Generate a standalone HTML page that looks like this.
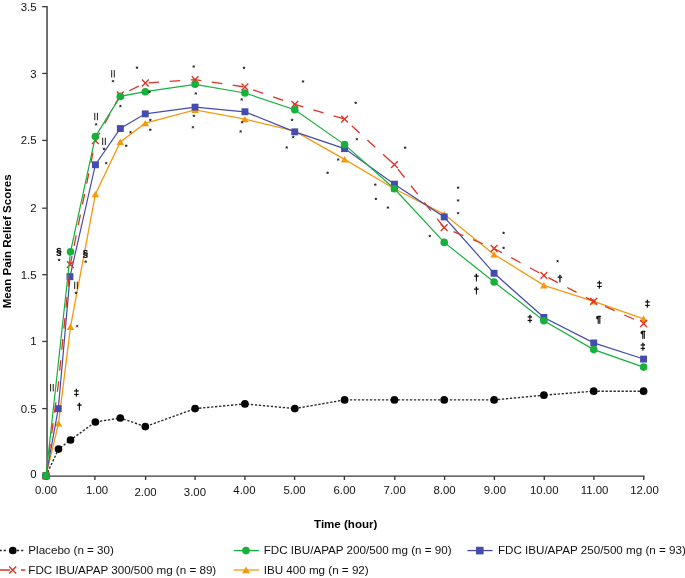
<!DOCTYPE html>
<html><head><meta charset="utf-8"><title>Chart</title>
<style>
html,body{margin:0;padding:0;background:#fff;}
body{width:685px;height:578px;overflow:hidden;font-family:"Liberation Sans",sans-serif;}
svg{display:block;will-change:transform;font-family:"Liberation Sans",sans-serif;}
.tk{font-size:11.42px;fill:#111;}
.lg{font-size:11.64px;fill:#111;}
.ttl{font-size:11.3px;font-weight:bold;fill:#000;}
.sym{font-size:9.6px;font-weight:bold;fill:#000;stroke:#000;stroke-width:0.3px;text-anchor:middle;}
</style></head><body>
<svg width="685" height="578" viewBox="0 0 685 578">
<rect width="685" height="578" fill="#fff"/>
<g stroke="#3a3a3a" stroke-width="1.42" fill="none">
<path d="M47.05 5.95V476.15H644.5"/>
<path d="M42.2 476.00H47.0" stroke-width="1.3"/>
<path d="M42.2 408.60H47.0" stroke-width="1.3"/>
<path d="M42.2 341.45H47.0" stroke-width="1.3"/>
<path d="M42.2 274.65H47.0" stroke-width="1.3"/>
<path d="M42.2 208.20H47.0" stroke-width="1.3"/>
<path d="M42.2 140.40H47.0" stroke-width="1.3"/>
<path d="M42.2 73.45H47.0" stroke-width="1.3"/>
<path d="M42.2 6.65H47.0" stroke-width="1.3"/>
<path d="M46.6 476.1V480.0" stroke-width="1.4"/>
<path d="M94.9 476.1V480.0" stroke-width="1.4"/>
<path d="M145.6 476.1V480.0" stroke-width="1.4"/>
<path d="M195.1 476.1V480.0" stroke-width="1.4"/>
<path d="M244.9 476.1V480.0" stroke-width="1.4"/>
<path d="M294.6 476.1V480.0" stroke-width="1.4"/>
<path d="M344.4 476.1V480.0" stroke-width="1.4"/>
<path d="M394.8 476.1V480.0" stroke-width="1.4"/>
<path d="M444.6 476.1V480.0" stroke-width="1.4"/>
<path d="M494.4 476.1V480.0" stroke-width="1.4"/>
<path d="M544.3 476.1V480.0" stroke-width="1.4"/>
<path d="M593.9 476.1V480.0" stroke-width="1.4"/>
<path d="M643.7 476.1V480.0" stroke-width="1.4"/>
</g>
<text class="tk" x="36.5" y="478.2" text-anchor="end">0</text>
<text class="tk" x="36.5" y="412.6" text-anchor="end">0.5</text>
<text class="tk" x="36.5" y="345.4" text-anchor="end">1</text>
<text class="tk" x="36.5" y="278.6" text-anchor="end">1.5</text>
<text class="tk" x="36.5" y="212.2" text-anchor="end">2</text>
<text class="tk" x="36.5" y="144.4" text-anchor="end">2.5</text>
<text class="tk" x="36.5" y="77.5" text-anchor="end">3</text>
<text class="tk" x="36.5" y="10.7" text-anchor="end">3.5</text>
<text class="tk" x="46.0" y="494.4" text-anchor="middle">0.00</text>
<text class="tk" x="97.0" y="494.4" text-anchor="middle">1.00</text>
<text class="tk" x="145.6" y="495.6" text-anchor="middle">2.00</text>
<text class="tk" x="194.9" y="496.3" text-anchor="middle">3.00</text>
<text class="tk" x="244.4" y="494.4" text-anchor="middle">4.00</text>
<text class="tk" x="294.6" y="494.4" text-anchor="middle">5.00</text>
<text class="tk" x="344.6" y="494.4" text-anchor="middle">6.00</text>
<text class="tk" x="394.7" y="494.4" text-anchor="middle">7.00</text>
<text class="tk" x="444.6" y="494.4" text-anchor="middle">8.00</text>
<text class="tk" x="494.9" y="494.4" text-anchor="middle">9.00</text>
<text class="tk" x="544.3" y="494.4" text-anchor="middle">10.00</text>
<text class="tk" x="594.6" y="494.4" text-anchor="middle">11.00</text>
<text class="tk" x="644.5" y="494.4" text-anchor="middle">12.00</text>
<text class="ttl" x="345.7" y="527.8" text-anchor="middle" style="font-size:11.55px">Time (hour)</text>
<text class="ttl" transform="translate(10.6,241.3) rotate(-90)" style="font-size:11.6px" text-anchor="middle">Mean Pain Relief Scores</text>
<polyline points="46.0,475.9 58.5,449.1 70.5,440.0 95.4,422.0 120.3,418.0 145.3,426.6 195.1,408.6 244.9,403.9 294.8,408.6 344.6,399.9 394.4,399.9 444.2,399.9 494.1,399.9 543.9,395.2 593.7,391.2 643.6,391.2" fill="none" stroke="#2a2a2a" stroke-width="1.38" stroke-dasharray="2.3 1.7"/>
<circle cx="46.0" cy="475.9" r="3.85" fill="#050505"/>
<circle cx="58.5" cy="449.1" r="3.85" fill="#050505"/>
<circle cx="70.5" cy="440.0" r="3.85" fill="#050505"/>
<circle cx="95.4" cy="422.0" r="3.85" fill="#050505"/>
<circle cx="120.3" cy="418.0" r="3.85" fill="#050505"/>
<circle cx="145.3" cy="426.6" r="3.85" fill="#050505"/>
<circle cx="195.1" cy="408.6" r="3.85" fill="#050505"/>
<circle cx="244.9" cy="403.9" r="3.85" fill="#050505"/>
<circle cx="294.8" cy="408.6" r="3.85" fill="#050505"/>
<circle cx="344.6" cy="399.9" r="3.85" fill="#050505"/>
<circle cx="394.4" cy="399.9" r="3.85" fill="#050505"/>
<circle cx="444.2" cy="399.9" r="3.85" fill="#050505"/>
<circle cx="494.1" cy="399.9" r="3.85" fill="#050505"/>
<circle cx="543.9" cy="395.2" r="3.85" fill="#050505"/>
<circle cx="593.7" cy="391.2" r="3.85" fill="#050505"/>
<circle cx="643.6" cy="391.2" r="3.85" fill="#050505"/>
<polyline points="46.0,475.9 58.5,423.3 70.5,326.9 95.4,194.2 120.3,141.9 145.3,123.2 195.1,109.8 244.9,119.2 294.8,131.2 344.6,159.4 394.4,188.8 444.2,214.3 494.1,254.5 543.9,285.3 593.7,301.4 643.6,318.8" fill="none" stroke="#f5980f" stroke-width="1.30"/>
<path d="M46.0 472.6l3.8 6.4h-7.6z" fill="#f5980f"/>
<path d="M58.5 420.0l3.8 6.4h-7.6z" fill="#f5980f"/>
<path d="M70.5 323.6l3.8 6.4h-7.6z" fill="#f5980f"/>
<path d="M95.4 190.9l3.8 6.4h-7.6z" fill="#f5980f"/>
<path d="M120.3 138.6l3.8 6.4h-7.6z" fill="#f5980f"/>
<path d="M145.3 119.9l3.8 6.4h-7.6z" fill="#f5980f"/>
<path d="M195.1 106.5l3.8 6.4h-7.6z" fill="#f5980f"/>
<path d="M244.9 115.9l3.8 6.4h-7.6z" fill="#f5980f"/>
<path d="M294.8 127.9l3.8 6.4h-7.6z" fill="#f5980f"/>
<path d="M344.6 156.1l3.8 6.4h-7.6z" fill="#f5980f"/>
<path d="M394.4 185.5l3.8 6.4h-7.6z" fill="#f5980f"/>
<path d="M444.2 211.0l3.8 6.4h-7.6z" fill="#f5980f"/>
<path d="M494.1 251.2l3.8 6.4h-7.6z" fill="#f5980f"/>
<path d="M543.9 282.0l3.8 6.4h-7.6z" fill="#f5980f"/>
<path d="M593.7 298.1l3.8 6.4h-7.6z" fill="#f5980f"/>
<path d="M643.6 315.5l3.8 6.4h-7.6z" fill="#f5980f"/>
<polyline points="46.0,475.9 58.3,408.6 70.0,276.6 95.4,164.7 120.3,128.5 145.3,113.8 195.1,107.1 244.9,111.8 294.8,131.9 344.6,148.6 394.4,184.2 444.2,217.0 494.1,273.3 543.9,317.5 593.7,342.9 643.6,359.0" fill="none" stroke="#444cad" stroke-width="1.20"/>
<rect x="42.5" y="472.4" width="6.9" height="6.9" fill="#444cad"/>
<rect x="54.8" y="405.2" width="6.9" height="6.9" fill="#444cad"/>
<rect x="66.5" y="273.2" width="6.9" height="6.9" fill="#444cad"/>
<rect x="92.0" y="161.3" width="6.9" height="6.9" fill="#444cad"/>
<rect x="116.9" y="125.1" width="6.9" height="6.9" fill="#444cad"/>
<rect x="141.8" y="110.4" width="6.9" height="6.9" fill="#444cad"/>
<rect x="191.6" y="103.7" width="6.9" height="6.9" fill="#444cad"/>
<rect x="241.5" y="108.3" width="6.9" height="6.9" fill="#444cad"/>
<rect x="291.3" y="128.4" width="6.9" height="6.9" fill="#444cad"/>
<rect x="341.1" y="145.2" width="6.9" height="6.9" fill="#444cad"/>
<rect x="391.0" y="180.7" width="6.9" height="6.9" fill="#444cad"/>
<rect x="440.8" y="213.5" width="6.9" height="6.9" fill="#444cad"/>
<rect x="490.6" y="269.8" width="6.9" height="6.9" fill="#444cad"/>
<rect x="540.4" y="314.0" width="6.9" height="6.9" fill="#444cad"/>
<rect x="590.3" y="339.5" width="6.9" height="6.9" fill="#444cad"/>
<rect x="640.1" y="355.6" width="6.9" height="6.9" fill="#444cad"/>
<polyline points="46.0,475.9 58.3,384.5 70.3,264.6" fill="none" stroke="#e03223" stroke-width="1.30" stroke-dasharray="10.6 10.55" stroke-dashoffset="20.85"/>
<polyline points="70.3,264.6 95.4,140.6 120.3,95.0 145.3,83.0 195.1,79.6 244.9,87.0 294.8,104.4 344.6,119.2 394.4,164.7 444.2,227.7 494.1,248.5 543.9,275.3 593.7,301.4 643.6,323.5" fill="none" stroke="#e03223" stroke-width="1.30" stroke-dasharray="10.6 10.55" stroke-dashoffset="2.02"/>
<path d="M42.6 472.5l6.8 6.8m0 -6.8l-6.8 6.8" stroke="#e03223" stroke-width="1.35" fill="none"/>
<path d="M66.9 261.2l6.8 6.8m0 -6.8l-6.8 6.8" stroke="#e03223" stroke-width="1.35" fill="none"/>
<path d="M92.0 137.2l6.8 6.8m0 -6.8l-6.8 6.8" stroke="#e03223" stroke-width="1.35" fill="none"/>
<path d="M116.9 91.6l6.8 6.8m0 -6.8l-6.8 6.8" stroke="#e03223" stroke-width="1.35" fill="none"/>
<path d="M141.9 79.6l6.8 6.8m0 -6.8l-6.8 6.8" stroke="#e03223" stroke-width="1.35" fill="none"/>
<path d="M191.7 76.2l6.8 6.8m0 -6.8l-6.8 6.8" stroke="#e03223" stroke-width="1.35" fill="none"/>
<path d="M241.5 83.6l6.8 6.8m0 -6.8l-6.8 6.8" stroke="#e03223" stroke-width="1.35" fill="none"/>
<path d="M291.4 101.0l6.8 6.8m0 -6.8l-6.8 6.8" stroke="#e03223" stroke-width="1.35" fill="none"/>
<path d="M341.2 115.8l6.8 6.8m0 -6.8l-6.8 6.8" stroke="#e03223" stroke-width="1.35" fill="none"/>
<path d="M391.0 161.3l6.8 6.8m0 -6.8l-6.8 6.8" stroke="#e03223" stroke-width="1.35" fill="none"/>
<path d="M440.8 224.3l6.8 6.8m0 -6.8l-6.8 6.8" stroke="#e03223" stroke-width="1.35" fill="none"/>
<path d="M490.7 245.1l6.8 6.8m0 -6.8l-6.8 6.8" stroke="#e03223" stroke-width="1.35" fill="none"/>
<path d="M540.5 271.9l6.8 6.8m0 -6.8l-6.8 6.8" stroke="#e03223" stroke-width="1.35" fill="none"/>
<path d="M590.3 298.0l6.8 6.8m0 -6.8l-6.8 6.8" stroke="#e03223" stroke-width="1.35" fill="none"/>
<path d="M640.2 320.1l6.8 6.8m0 -6.8l-6.8 6.8" stroke="#e03223" stroke-width="1.35" fill="none"/>
<polyline points="46.0,475.9 70.5,251.8 95.4,136.6 120.3,96.4 145.3,91.7 195.1,84.3 244.9,93.0 294.8,109.8 344.6,144.6 394.4,188.8 444.2,242.4 494.1,282.0 543.9,320.8 593.7,349.6 643.6,367.1" fill="none" stroke="#16b03c" stroke-width="1.20"/>
<circle cx="46.0" cy="475.9" r="3.8" fill="#16b03c"/>
<circle cx="70.5" cy="251.8" r="3.8" fill="#16b03c"/>
<circle cx="95.4" cy="136.6" r="3.8" fill="#16b03c"/>
<circle cx="120.3" cy="96.4" r="3.8" fill="#16b03c"/>
<circle cx="145.3" cy="91.7" r="3.8" fill="#16b03c"/>
<circle cx="195.1" cy="84.3" r="3.8" fill="#16b03c"/>
<circle cx="244.9" cy="93.0" r="3.8" fill="#16b03c"/>
<circle cx="294.8" cy="109.8" r="3.8" fill="#16b03c"/>
<circle cx="344.6" cy="144.6" r="3.8" fill="#16b03c"/>
<circle cx="394.4" cy="188.8" r="3.8" fill="#16b03c"/>
<circle cx="444.2" cy="242.4" r="3.8" fill="#16b03c"/>
<circle cx="494.1" cy="282.0" r="3.8" fill="#16b03c"/>
<circle cx="543.9" cy="320.8" r="3.8" fill="#16b03c"/>
<circle cx="593.7" cy="349.6" r="3.8" fill="#16b03c"/>
<circle cx="643.6" cy="367.1" r="3.8" fill="#16b03c"/>
<g>
<path d="M-0.4 550.5H8M17 550.5H24" stroke="#222" stroke-width="1.6" stroke-dasharray="2.15 2"/><circle cx="12.8" cy="550.5" r="3.85" fill="#050505"/>
<text class="lg" x="28.3" y="554.3">Placebo (n = 30)</text>
<path d="M233.8 550.55H259" stroke="#16b03c" stroke-width="1.3"/><circle cx="246" cy="550.55" r="3.85" fill="#16b03c"/>
<text class="lg" x="263.7" y="554.3">FDC IBU/APAP 200/500 mg (n = 90)</text>
<path d="M467.4 550.55H492.6" stroke="#444cad" stroke-width="1.3"/><rect x="476.0" y="546.8" width="7.6" height="7.6" fill="#444cad"/>
<text class="lg" x="497.9" y="554.3">FDC IBU/APAP 250/500 mg (n = 93)</text>
<path d="M0 570H10M21 570H25.3" stroke="#e03223" stroke-width="1.4"/><path d="M9.2 566.5l7.0 7.0m0 -7.0l-7.0 7.0" stroke="#e03223" stroke-width="1.35" fill="none"/>
<text class="lg" x="28.3" y="574.2">FDC IBU/APAP 300/500 mg (n = 89)</text>
<path d="M233.8 570H259" stroke="#f5980f" stroke-width="1.3"/><path d="M246.0 566.5l4.0 6.7h-8.0z" fill="#f5980f"/>
<text class="lg" x="263.7" y="574.2">IBU 400 mg (n = 92)</text>
</g>
<path d="M137.0 67.7l0.00 -1.30M137.0 67.7l1.24 -0.40M137.0 67.7l0.76 1.05M137.0 67.7l-0.76 1.05M137.0 67.7l-1.24 -0.40M193.7 66.6l0.00 -1.30M193.7 66.6l1.24 -0.40M193.7 66.6l0.76 1.05M193.7 66.6l-0.76 1.05M193.7 66.6l-1.24 -0.40M244.0 67.9l0.00 -1.30M244.0 67.9l1.24 -0.40M244.0 67.9l0.76 1.05M244.0 67.9l-0.76 1.05M244.0 67.9l-1.24 -0.40M303.0 81.5l0.00 -1.30M303.0 81.5l1.24 -0.40M303.0 81.5l0.76 1.05M303.0 81.5l-0.76 1.05M303.0 81.5l-1.24 -0.40M113.0 81.2l0.00 -1.30M113.0 81.2l1.24 -0.40M113.0 81.2l0.76 1.05M113.0 81.2l-0.76 1.05M113.0 81.2l-1.24 -0.40M149.5 92.0l0.00 -1.30M149.5 92.0l1.24 -0.40M149.5 92.0l0.76 1.05M149.5 92.0l-0.76 1.05M149.5 92.0l-1.24 -0.40M195.8 93.5l0.00 -1.30M195.8 93.5l1.24 -0.40M195.8 93.5l0.76 1.05M195.8 93.5l-0.76 1.05M195.8 93.5l-1.24 -0.40M241.7 99.5l0.00 -1.30M241.7 99.5l1.24 -0.40M241.7 99.5l0.76 1.05M241.7 99.5l-0.76 1.05M241.7 99.5l-1.24 -0.40M120.4 106.2l0.00 -1.30M120.4 106.2l1.24 -0.40M120.4 106.2l0.76 1.05M120.4 106.2l-0.76 1.05M120.4 106.2l-1.24 -0.40M96.1 124.4l0.00 -1.30M96.1 124.4l1.24 -0.40M96.1 124.4l0.76 1.05M96.1 124.4l-0.76 1.05M96.1 124.4l-1.24 -0.40M104.0 148.9l0.00 -1.30M104.0 148.9l1.24 -0.40M104.0 148.9l0.76 1.05M104.0 148.9l-0.76 1.05M104.0 148.9l-1.24 -0.40M106.2 163.2l0.00 -1.30M106.2 163.2l1.24 -0.40M106.2 163.2l0.76 1.05M106.2 163.2l-0.76 1.05M106.2 163.2l-1.24 -0.40M130.5 132.3l0.00 -1.30M130.5 132.3l1.24 -0.40M130.5 132.3l0.76 1.05M130.5 132.3l-0.76 1.05M130.5 132.3l-1.24 -0.40M126.2 145.8l0.00 -1.30M126.2 145.8l1.24 -0.40M126.2 145.8l0.76 1.05M126.2 145.8l-0.76 1.05M126.2 145.8l-1.24 -0.40M150.3 120.0l0.00 -1.30M150.3 120.0l1.24 -0.40M150.3 120.0l0.76 1.05M150.3 120.0l-0.76 1.05M150.3 120.0l-1.24 -0.40M150.3 129.8l0.00 -1.30M150.3 129.8l1.24 -0.40M150.3 129.8l0.76 1.05M150.3 129.8l-0.76 1.05M150.3 129.8l-1.24 -0.40M193.9 115.9l0.00 -1.30M193.9 115.9l1.24 -0.40M193.9 115.9l0.76 1.05M193.9 115.9l-0.76 1.05M193.9 115.9l-1.24 -0.40M192.9 127.3l0.00 -1.30M192.9 127.3l1.24 -0.40M192.9 127.3l0.76 1.05M192.9 127.3l-0.76 1.05M192.9 127.3l-1.24 -0.40M242.1 122.3l0.00 -1.30M242.1 122.3l1.24 -0.40M242.1 122.3l0.76 1.05M242.1 122.3l-0.76 1.05M242.1 122.3l-1.24 -0.40M240.6 131.5l0.00 -1.30M240.6 131.5l1.24 -0.40M240.6 131.5l0.76 1.05M240.6 131.5l-0.76 1.05M240.6 131.5l-1.24 -0.40M292.1 120.0l0.00 -1.30M292.1 120.0l1.24 -0.40M292.1 120.0l0.76 1.05M292.1 120.0l-0.76 1.05M292.1 120.0l-1.24 -0.40M293.2 137.1l0.00 -1.30M293.2 137.1l1.24 -0.40M293.2 137.1l0.76 1.05M293.2 137.1l-0.76 1.05M293.2 137.1l-1.24 -0.40M286.7 147.5l0.00 -1.30M286.7 147.5l1.24 -0.40M286.7 147.5l0.76 1.05M286.7 147.5l-0.76 1.05M286.7 147.5l-1.24 -0.40M355.7 102.9l0.00 -1.30M355.7 102.9l1.24 -0.40M355.7 102.9l0.76 1.05M355.7 102.9l-0.76 1.05M355.7 102.9l-1.24 -0.40M356.9 139.2l0.00 -1.30M356.9 139.2l1.24 -0.40M356.9 139.2l0.76 1.05M356.9 139.2l-0.76 1.05M356.9 139.2l-1.24 -0.40M405.1 147.7l0.00 -1.30M405.1 147.7l1.24 -0.40M405.1 147.7l0.76 1.05M405.1 147.7l-0.76 1.05M405.1 147.7l-1.24 -0.40M338.2 159.6l0.00 -1.30M338.2 159.6l1.24 -0.40M338.2 159.6l0.76 1.05M338.2 159.6l-0.76 1.05M338.2 159.6l-1.24 -0.40M327.6 172.9l0.00 -1.30M327.6 172.9l1.24 -0.40M327.6 172.9l0.76 1.05M327.6 172.9l-0.76 1.05M327.6 172.9l-1.24 -0.40M375.3 184.7l0.00 -1.30M375.3 184.7l1.24 -0.40M375.3 184.7l0.76 1.05M375.3 184.7l-0.76 1.05M375.3 184.7l-1.24 -0.40M375.9 199.0l0.00 -1.30M375.9 199.0l1.24 -0.40M375.9 199.0l0.76 1.05M375.9 199.0l-0.76 1.05M375.9 199.0l-1.24 -0.40M387.9 207.6l0.00 -1.30M387.9 207.6l1.24 -0.40M387.9 207.6l0.76 1.05M387.9 207.6l-0.76 1.05M387.9 207.6l-1.24 -0.40M458.1 187.7l0.00 -1.30M458.1 187.7l1.24 -0.40M458.1 187.7l0.76 1.05M458.1 187.7l-0.76 1.05M458.1 187.7l-1.24 -0.40M458.1 200.5l0.00 -1.30M458.1 200.5l1.24 -0.40M458.1 200.5l0.76 1.05M458.1 200.5l-0.76 1.05M458.1 200.5l-1.24 -0.40M458.1 213.2l0.00 -1.30M458.1 213.2l1.24 -0.40M458.1 213.2l0.76 1.05M458.1 213.2l-0.76 1.05M458.1 213.2l-1.24 -0.40M429.8 236.1l0.00 -1.30M429.8 236.1l1.24 -0.40M429.8 236.1l0.76 1.05M429.8 236.1l-0.76 1.05M429.8 236.1l-1.24 -0.40M503.6 233.0l0.00 -1.30M503.6 233.0l1.24 -0.40M503.6 233.0l0.76 1.05M503.6 233.0l-0.76 1.05M503.6 233.0l-1.24 -0.40M503.6 248.0l0.00 -1.30M503.6 248.0l1.24 -0.40M503.6 248.0l0.76 1.05M503.6 248.0l-0.76 1.05M503.6 248.0l-1.24 -0.40M557.6 261.2l0.00 -1.30M557.6 261.2l1.24 -0.40M557.6 261.2l0.76 1.05M557.6 261.2l-0.76 1.05M557.6 261.2l-1.24 -0.40M59.1 260.0l0.00 -1.30M59.1 260.0l1.24 -0.40M59.1 260.0l0.76 1.05M59.1 260.0l-0.76 1.05M59.1 260.0l-1.24 -0.40M85.6 261.7l0.00 -1.30M85.6 261.7l1.24 -0.40M85.6 261.7l0.76 1.05M85.6 261.7l-0.76 1.05M85.6 261.7l-1.24 -0.40M76.0 293.0l0.00 -1.30M76.0 293.0l1.24 -0.40M76.0 293.0l0.76 1.05M76.0 293.0l-0.76 1.05M76.0 293.0l-1.24 -0.40M77.1 326.2l0.00 -1.30M77.1 326.2l1.24 -0.40M77.1 326.2l0.76 1.05M77.1 326.2l-0.76 1.05M77.1 326.2l-1.24 -0.40" stroke="#111" stroke-width="0.85" fill="none"/>
<path d="M111.7 70.1v7.4m2.6 0v-7.4" stroke="#111" stroke-width="0.95" fill="none"/>
<path d="M94.8 112.8v7.4m2.6 0v-7.4" stroke="#111" stroke-width="0.95" fill="none"/>
<path d="M102.7 137.7v7.4m2.6 0v-7.4" stroke="#111" stroke-width="0.95" fill="none"/>
<path d="M74.7 281.7v7.4m2.6 0v-7.4" stroke="#111" stroke-width="0.95" fill="none"/>
<path d="M50.6 384.0v7.4m2.6 0v-7.4" stroke="#111" stroke-width="0.95" fill="none"/>
<text class="sym" x="59.0" y="253.9">§</text>
<text class="sym" x="85.5" y="255.7">§</text>
<text class="sym" x="476.5" y="280.8">†</text>
<text class="sym" x="476.5" y="294.3">†</text>
<text class="sym" x="560.0" y="281.8">†</text>
<text class="sym" x="79.5" y="410.3">†</text>
<text class="sym" x="599.5" y="287.5">‡</text>
<text class="sym" x="647.5" y="306.8">‡</text>
<text class="sym" x="643.0" y="349.8">‡</text>
<text class="sym" x="530.0" y="322.0">‡</text>
<text class="sym" x="76.4" y="396.2">‡</text>
<text class="sym" style="font-size:9px" x="598.4" y="321.6">¶</text>
<text class="sym" style="font-size:9px" x="642.9" y="336.8">¶</text>
</svg></body></html>
